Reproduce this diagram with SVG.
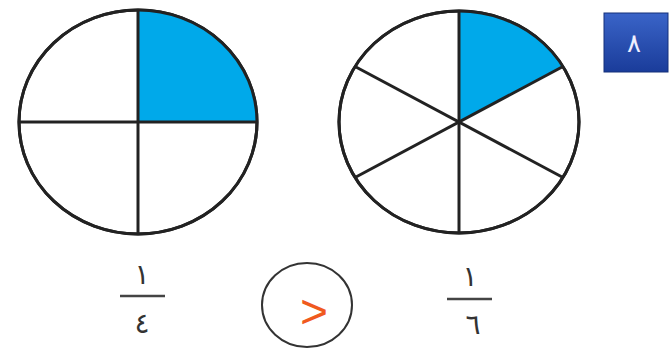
<svg xmlns="http://www.w3.org/2000/svg" width="671" height="353" viewBox="0 0 671 353">
<defs>
<linearGradient id="badge" x1="0" y1="0" x2="0" y2="1">
<stop offset="0" stop-color="#3a64c8"/>
<stop offset="1" stop-color="#1a3c9a"/>
</linearGradient>
</defs>
<style>
.rim{fill:#fff;stroke:#222;stroke-width:3}
.sp{stroke:#222;stroke-width:3;fill:none}
.sh{fill:#00a9ea;stroke:none}
.num{font-family:"DejaVu Sans",sans-serif;font-size:28px;fill:#333;text-anchor:middle}
.bar{stroke:#444;stroke-width:2.5}
</style>
<rect width="671" height="353" fill="#fff"/>
<g id="quarters">
<ellipse class="rim" cx="138" cy="122" rx="119" ry="112"/>
<path class="sh" d="M138,122 L138,10 A119,112 0 0 1 257,122 Z"/>
<ellipse class="sp" cx="138" cy="122" rx="119" ry="112"/>
<line class="sp" x1="138" y1="10" x2="138" y2="234"/>
<line class="sp" x1="19" y1="122" x2="257" y2="122"/>
</g>
<g id="sixths">
<ellipse class="rim" cx="459" cy="122" rx="120" ry="111"/>
<path class="sh" d="M459,122 L459,11 A120,111 0 0 1 563,66.5 Z"/>
<ellipse class="sp" cx="459" cy="122" rx="120" ry="111"/>
<line class="sp" x1="459" y1="11" x2="459" y2="233"/>
<line class="sp" x1="355" y1="66.5" x2="563" y2="177.5"/>
<line class="sp" x1="355" y1="177.5" x2="563" y2="66.5"/>
</g>
<g id="badge-8">
<rect x="604" y="13" width="64" height="59" fill="url(#badge)" stroke="#15307a" stroke-width="1"/>
<text x="634" y="52" font-family="DejaVu Sans,sans-serif" font-size="26" fill="#eef" text-anchor="middle">٨</text>
</g>
<g id="frac-left">
<text class="num" x="142" y="284">١</text>
<line class="bar" x1="120" y1="296" x2="165" y2="296"/>
<text class="num" x="142" y="333">٤</text>
</g>
<g id="compare">
<ellipse cx="307" cy="305" rx="45" ry="42" fill="#fff" stroke="#333" stroke-width="2"/>
<text x="314" y="328" font-family="Liberation Sans,sans-serif" font-size="48" fill="#f05a1e" text-anchor="middle">&gt;</text>
</g>
<g id="frac-right">
<text class="num" x="470" y="286">١</text>
<line class="bar" x1="447" y1="299" x2="492" y2="299"/>
<text class="num" x="473" y="334">٦</text>
</g>
</svg>
